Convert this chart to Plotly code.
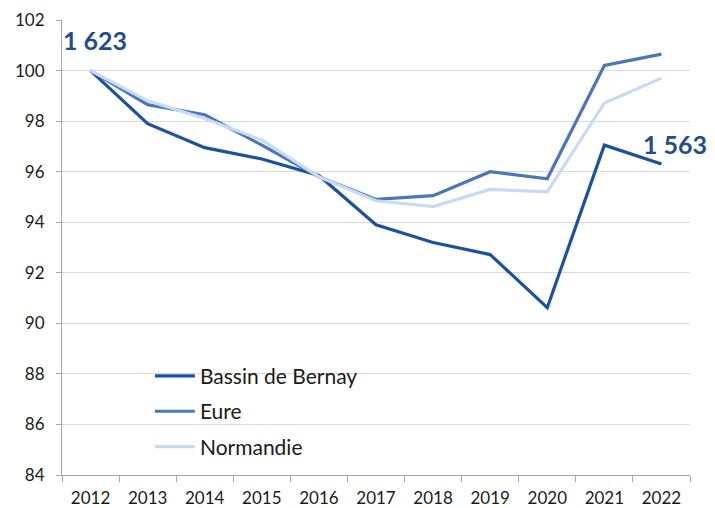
import plotly.graph_objects as go

years = [2012, 2013, 2014, 2015, 2016, 2017, 2018, 2019, 2020, 2021, 2022]
bernay = [100, 97.9, 96.95, 96.5, 95.85, 93.9, 93.2, 92.72, 90.62, 97.05, 96.3]
eure = [100, 98.65, 98.25, 97.05, 95.8, 94.9, 95.05, 96.0, 95.72, 100.2, 100.65]
normandie = [100, 98.8, 98.1, 97.25, 95.8, 94.85, 94.62, 95.3, 95.2, 98.72, 99.7]
series_names = ["Bassin de Bernay", "Eure", "Normandie"]
label_start = "1 623"
label_end = "1 563"

colors = ["#1A51A0", "#4A76BA", "#C9DBF4"]
font = "Lato, 'Open Sans', sans-serif"

fig = go.Figure()
for name, vals, c in zip(series_names, [bernay, eure, normandie], colors):
    fig.add_trace(go.Scatter(x=years, y=vals, name=name, mode="lines", legendgroup=name,
                             line=dict(color=c, width=3.2)))

fig.add_annotation(x=years[0], y=101.2, text=label_start, showarrow=False, xshift=4,
                   font=dict(family=font, size=25, color="#1F4E8A", weight="bold"))
fig.add_annotation(xref="paper", x=1.03, xanchor="right", y=97.1, text=label_end,
                   showarrow=False,
                   font=dict(family=font, size=25, color="#1F4E8A", weight="bold"))

# page body has an 8px margin, so the figure occupies 8..715 x 8..508 of the window
fig.update_layout(
    width=707, height=500,
    margin=dict(l=54, r=25, t=12, b=33),
    paper_bgcolor="white", plot_bgcolor="white",
    font=dict(family=font, size=17, color="#1a1a1a"),
    showlegend=True,
    legend=dict(x=0.14, y=0.262, xanchor="left", yanchor="top",
                bgcolor="rgba(0,0,0,0)", font=dict(size=21, color="#1a1a1a"),
                itemwidth=40, tracegroupgap=5),
    xaxis=dict(range=[2011.5, 2022.5], tickvals=years, ticktext=[str(y) for y in years],
               showgrid=False, showline=True, linecolor="#a6a6a6", linewidth=1,
               ticks="", ticklabelstandoff=8, zeroline=False, automargin=False,
               minor=dict(ticks="outside", tick0=2011.5, dtick=1, ticklen=6,
                          tickcolor="#a6a6a6", showgrid=False)),
    yaxis=dict(range=[84, 102], dtick=2, showgrid=True, gridcolor="#d9d9d9",
               gridwidth=1, showline=True, linecolor="#a6a6a6", linewidth=1,
               ticks="outside", ticklen=5, tickcolor="#a6a6a6", automargin=False,
               ticklabelstandoff=8, zeroline=False),
)

fig.write_html("out.html")
